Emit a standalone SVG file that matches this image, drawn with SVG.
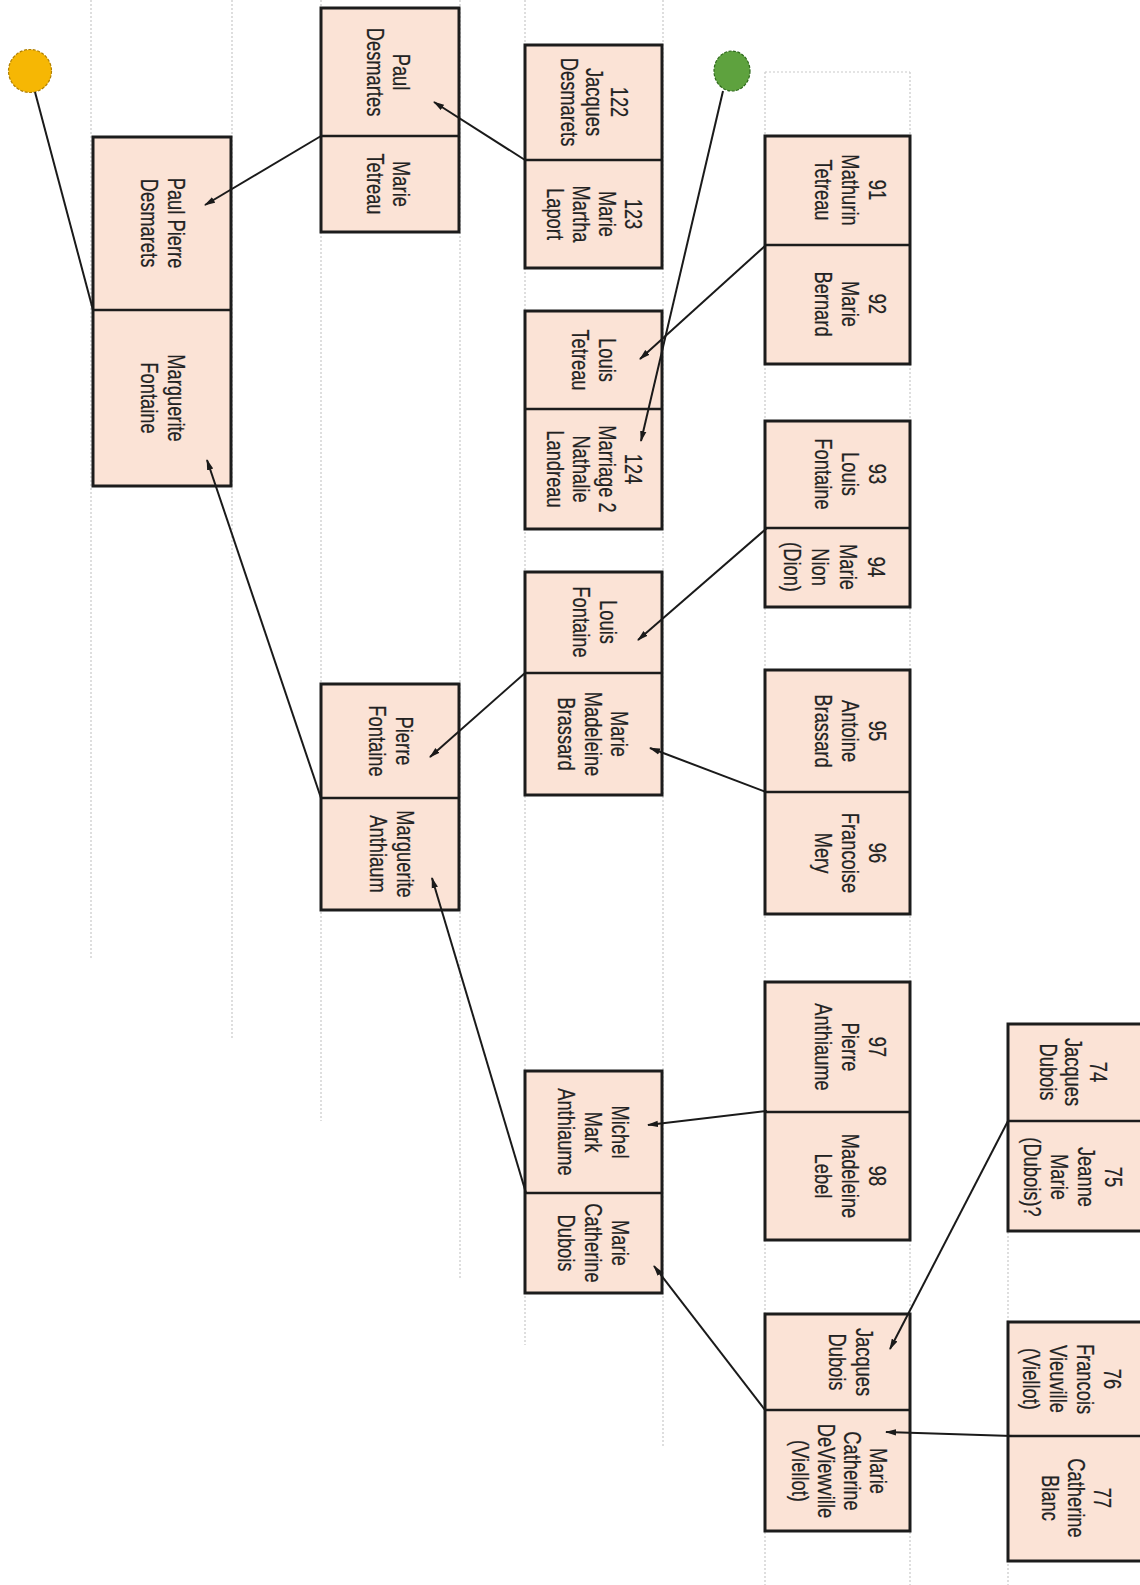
<svg xmlns="http://www.w3.org/2000/svg" width="1140" height="1585" viewBox="0 0 1140 1585">
<style>
.bg{fill:#ffffff}
.grid line{stroke:#c9c9c9;stroke-width:1.2;stroke-dasharray:2 2;fill:none}
.box{fill:#fbe3d6;stroke:#1c1c1c;stroke-width:3}
.div{stroke:#1c1c1c;stroke-width:2.5}
.t{font-family:"Liberation Sans",Arial,sans-serif;font-size:23.5px;fill:#222222;stroke:#222222;stroke-width:0.25;text-anchor:middle;dominant-baseline:central}
.conn line{stroke:#1a1a1a;stroke-width:2;fill:none}
.arr{marker-end:url(#ah)}
</style>
<defs>
<marker id="ah" markerUnits="userSpaceOnUse" markerWidth="11" markerHeight="8" refX="10" refY="4" orient="auto">
<path d="M0,0.8 L11,4 L0,7.2 z" fill="#1a1a1a"/>
</marker>
</defs>
<rect class="bg" x="0" y="0" width="1140" height="1585"/>
<g id="grid" class="grid">
<line x1="91" y1="0" x2="91" y2="960"/>
<line x1="232" y1="0" x2="232" y2="1039"/>
<line x1="321" y1="0" x2="321" y2="1121"/>
<line x1="460" y1="0" x2="460" y2="1278"/>
<line x1="525" y1="0" x2="525" y2="1345"/>
<line x1="663" y1="0" x2="663" y2="1446"/>
<line x1="765" y1="72" x2="765" y2="1585"/>
<line x1="910" y1="72" x2="910" y2="1585"/>
<line x1="765" y1="72" x2="910" y2="72"/>
<line x1="1008" y1="1024" x2="1008" y2="1585"/>
</g>

<g id="start-orange">
<circle cx="30" cy="71" r="21.5" fill="#f6b704" stroke="#b07f00" stroke-width="1.2" stroke-dasharray="3 1.5"/>
</g>
<g id="start-green">
<ellipse cx="732" cy="71" rx="18" ry="20" fill="#5ea23e" stroke="#2f6a1c" stroke-width="1.2" stroke-dasharray="3 1.5"/>
</g>

<g id="node-paulpierre">
<rect class="box" x="93" y="137" width="138" height="349"/>
<line class="div" x1="93" y1="310" x2="231" y2="310"/>
<text class="t" transform="translate(177,223) rotate(90) scale(0.78,1)"><tspan x="0" y="0">Paul Pierre</tspan><tspan x="0" y="27">Desmarets</tspan></text>
<text class="t" transform="translate(177,398) rotate(90) scale(0.78,1)"><tspan x="0" y="0">Marguerite</tspan><tspan x="0" y="27">Fontaine</tspan></text>
</g>

<g id="node-pauldesmartes">
<rect class="box" x="321" y="8" width="138" height="224"/>
<line class="div" x1="321" y1="136" x2="459" y2="136"/>
<text class="t" transform="translate(402,72) rotate(90) scale(0.78,1)"><tspan x="0" y="0">Paul</tspan><tspan x="0" y="26">Desmartes</tspan></text>
<text class="t" transform="translate(402,184) rotate(90) scale(0.78,1)"><tspan x="0" y="0">Marie</tspan><tspan x="0" y="26">Tetreau</tspan></text>
</g>

<g id="node-122-123">
<rect class="box" x="525" y="45" width="137" height="223"/>
<line class="div" x1="525" y1="160" x2="662" y2="160"/>
<text class="t" transform="translate(620,102) rotate(90) scale(0.78,1)"><tspan x="0" y="0">122</tspan><tspan x="0" y="25">Jacques</tspan><tspan x="0" y="50">Desmarets</tspan></text>
<text class="t" transform="translate(634,214) rotate(90) scale(0.78,1)"><tspan x="0" y="0">123</tspan><tspan x="0" y="26">Marie</tspan><tspan x="0" y="52">Martha</tspan><tspan x="0" y="78">Laport</tspan></text>
</g>

<g id="node-91-92">
<rect class="box" x="765" y="136" width="145" height="228"/>
<line class="div" x1="765" y1="245" x2="910" y2="245"/>
<text class="t" transform="translate(878,190) rotate(90) scale(0.78,1)"><tspan x="0" y="0">91</tspan><tspan x="0" y="27">Mathurin</tspan><tspan x="0" y="54">Tetreau</tspan></text>
<text class="t" transform="translate(878,304) rotate(90) scale(0.78,1)"><tspan x="0" y="0">92</tspan><tspan x="0" y="27">Marie</tspan><tspan x="0" y="54">Bernard</tspan></text>
</g>

<g id="node-louistetreau">
<rect class="box" x="525" y="311" width="137" height="218"/>
<line class="div" x1="525" y1="409" x2="662" y2="409"/>
<text class="t" transform="translate(608,360) rotate(90) scale(0.78,1)"><tspan x="0" y="0">Louis</tspan><tspan x="0" y="27">Tetreau</tspan></text>
<text class="t" transform="translate(634,469) rotate(90) scale(0.78,1)"><tspan x="0" y="0">124</tspan><tspan x="0" y="26">Marriage 2</tspan><tspan x="0" y="52">Nathalie</tspan><tspan x="0" y="78">Landreau</tspan></text>
</g>

<g id="node-93-94">
<rect class="box" x="765" y="421" width="145" height="186"/>
<line class="div" x1="765" y1="528" x2="910" y2="528"/>
<text class="t" transform="translate(878,474) rotate(90) scale(0.78,1)"><tspan x="0" y="0">93</tspan><tspan x="0" y="27">Louis</tspan><tspan x="0" y="54">Fontaine</tspan></text>
<text class="t" transform="translate(877,567) rotate(90) scale(0.78,1)"><tspan x="0" y="0">94</tspan><tspan x="0" y="28">Marie</tspan><tspan x="0" y="56">Nion</tspan><tspan x="0" y="84">(Dion)</tspan></text>
</g>

<g id="node-louisfontaine">
<rect class="box" x="525" y="572" width="137" height="223"/>
<line class="div" x1="525" y1="673" x2="662" y2="673"/>
<text class="t" transform="translate(609,622) rotate(90) scale(0.78,1)"><tspan x="0" y="0">Louis</tspan><tspan x="0" y="27">Fontaine</tspan></text>
<text class="t" transform="translate(620,734) rotate(90) scale(0.78,1)"><tspan x="0" y="0">Marie</tspan><tspan x="0" y="26.5">Madeleine</tspan><tspan x="0" y="53">Brassard</tspan></text>
</g>

<g id="node-95-96">
<rect class="box" x="765" y="670" width="145" height="244"/>
<line class="div" x1="765" y1="792" x2="910" y2="792"/>
<text class="t" transform="translate(878,731) rotate(90) scale(0.78,1)"><tspan x="0" y="0">95</tspan><tspan x="0" y="27">Antoine</tspan><tspan x="0" y="54">Brassard</tspan></text>
<text class="t" transform="translate(878,853) rotate(90) scale(0.78,1)"><tspan x="0" y="0">96</tspan><tspan x="0" y="27">Francoise</tspan><tspan x="0" y="54">Mery</tspan></text>
</g>

<g id="node-pierrefontaine">
<rect class="box" x="321" y="684" width="138" height="226"/>
<line class="div" x1="321" y1="798" x2="459" y2="798"/>
<text class="t" transform="translate(405,741) rotate(90) scale(0.78,1)"><tspan x="0" y="0">Pierre</tspan><tspan x="0" y="27">Fontaine</tspan></text>
<text class="t" transform="translate(406,854) rotate(90) scale(0.78,1)"><tspan x="0" y="0">Marguerite</tspan><tspan x="0" y="27">Anthiaum</tspan></text>
</g>

<g id="node-97-98">
<rect class="box" x="765" y="982" width="145" height="258"/>
<line class="div" x1="765" y1="1112" x2="910" y2="1112"/>
<text class="t" transform="translate(878,1047) rotate(90) scale(0.78,1)"><tspan x="0" y="0">97</tspan><tspan x="0" y="27">Pierre</tspan><tspan x="0" y="54">Anthiaume</tspan></text>
<text class="t" transform="translate(878,1176) rotate(90) scale(0.78,1)"><tspan x="0" y="0">98</tspan><tspan x="0" y="27">Madeleine</tspan><tspan x="0" y="54">Lebel</tspan></text>
</g>

<g id="node-michel">
<rect class="box" x="525" y="1071" width="137" height="222"/>
<line class="div" x1="525" y1="1193" x2="662" y2="1193"/>
<text class="t" transform="translate(621,1132) rotate(90) scale(0.78,1)"><tspan x="0" y="0">Michel</tspan><tspan x="0" y="27">Mark</tspan><tspan x="0" y="54">Anthiaume</tspan></text>
<text class="t" transform="translate(621,1243) rotate(90) scale(0.78,1)"><tspan x="0" y="0">Marie</tspan><tspan x="0" y="27">Catherine</tspan><tspan x="0" y="54">Dubois</tspan></text>
</g>

<g id="node-74-75">
<rect class="box" x="1008" y="1024" width="137" height="207"/>
<line class="div" x1="1008" y1="1121" x2="1145" y2="1121"/>
<text class="t" transform="translate(1099,1072) rotate(90) scale(0.78,1)"><tspan x="0" y="0">74</tspan><tspan x="0" y="25">Jacques</tspan><tspan x="0" y="50">Dubois</tspan></text>
<text class="t" transform="translate(1114,1177) rotate(90) scale(0.78,1)"><tspan x="0" y="0">75</tspan><tspan x="0" y="27">Jeanne</tspan><tspan x="0" y="54">Marie</tspan><tspan x="0" y="81">(Dubois)?</tspan></text>
</g>

<g id="node-jacquesdubois">
<rect class="box" x="765" y="1314" width="145" height="217"/>
<line class="div" x1="765" y1="1410" x2="910" y2="1410"/>
<text class="t" transform="translate(865,1362) rotate(90) scale(0.78,1)"><tspan x="0" y="0">Jacques</tspan><tspan x="0" y="27">Dubois</tspan></text>
<text class="t" transform="translate(879,1471) rotate(90) scale(0.78,1)"><tspan x="0" y="0">Marie</tspan><tspan x="0" y="26">Catherine</tspan><tspan x="0" y="52">DeViewville</tspan><tspan x="0" y="78">(Viellot)</tspan></text>
</g>

<g id="node-76-77">
<rect class="box" x="1008" y="1322" width="137" height="239"/>
<line class="div" x1="1008" y1="1436" x2="1145" y2="1436"/>
<text class="t" transform="translate(1113,1379) rotate(90) scale(0.78,1)"><tspan x="0" y="0">76</tspan><tspan x="0" y="27">Francois</tspan><tspan x="0" y="54">Vieuville</tspan><tspan x="0" y="81">(Viellot)</tspan></text>
<text class="t" transform="translate(1103,1498) rotate(90) scale(0.78,1)"><tspan x="0" y="0">77</tspan><tspan x="0" y="26">Catherine</tspan><tspan x="0" y="52">Blanc</tspan></text>
</g>

<g id="connectors" class="conn">
<line x1="35" y1="92" x2="93" y2="310"/>
<line x1="723" y1="91" x2="641" y2="441" class="arr"/>
<line x1="525" y1="160" x2="434" y2="102" class="arr"/>
<line x1="321" y1="136" x2="205" y2="205" class="arr"/>
<line x1="766" y1="245" x2="640" y2="359" class="arr"/>
<line x1="767" y1="528" x2="638" y2="640" class="arr"/>
<line x1="766" y1="792" x2="650" y2="748" class="arr"/>
<line x1="525" y1="673" x2="430" y2="757" class="arr"/>
<line x1="321" y1="798" x2="207" y2="460" class="arr"/>
<line x1="526" y1="1193" x2="432" y2="878" class="arr"/>
<line x1="767" y1="1111" x2="648" y2="1125" class="arr"/>
<line x1="765" y1="1410" x2="654" y2="1266" class="arr"/>
<line x1="1008" y1="1121" x2="890" y2="1349" class="arr"/>
<line x1="1012" y1="1436" x2="886" y2="1432" class="arr"/>
</g>
</svg>
